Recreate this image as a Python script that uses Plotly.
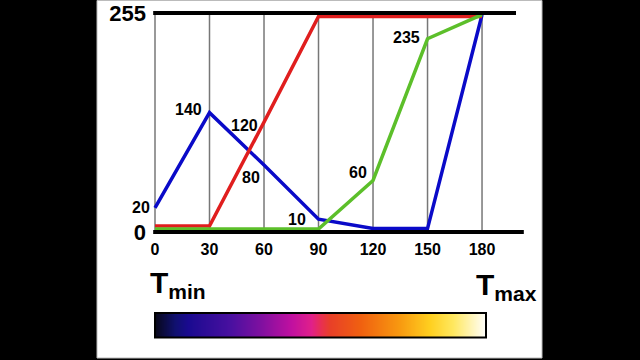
import plotly.graph_objects as go

W, H = 640, 360

# ---------------- data ----------------
temps = [0, 30, 60, 90, 120, 150, 180]
tick_labels = ["0", "30", "60", "90", "120", "150", "180"]
red_vals = [7, 7, 128, 251, 251, 251, 251]
green_vals = [3.5, 3.5, 3.5, 3.5, 60, 225, 253]
blue_vals = [28, 139, 78, 15, 4, 4, 253]

# point labels: (series, index, text, x-shift px, y-shift px)
label_series = ["blue", "blue", "red", "blue", "blue", "green", "green"]
label_index = [0, 1, 2, 2, 3, 4, 5]
label_text = ["20", "140", "120", "80", "10", "60", "235"]
label_dx = [-3, -6, -4, -2, -11, -4, -6]
label_dy = [0, 3, -3, -12, 0, 8, 1]

y_ticks = [0, 255]
y_tick_text = ["0", "255"]

bar_stops = [0.0, 0.06, 0.10, 0.23, 0.32, 0.41, 0.47, 0.50, 0.53, 0.62, 0.74, 0.83, 0.90, 1.0]
bar_colors = ["#08081a", "#101070", "#1a0a90", "#4a10a0", "#8010a0", "#c010a0",
              "#e0208a", "#e83050", "#e84028", "#f06010", "#f89a10", "#ffd020",
              "#ffe860", "#ffffff"]

FONT = "Liberation Sans, Arial, sans-serif"
COL = {"red": "#e01e1e", "green": "#5cbf2a", "blue": "#0a0ac8"}
series = {"red": red_vals, "green": green_vals, "blue": blue_vals}


def px_x(p):
    return p / W


def px_y(p):
    return 1 - p / H


fig = go.Figure()

for name in ["blue", "red", "green"]:
    fig.add_trace(go.Scatter(x=temps, y=series[name], mode="lines",
                             line=dict(color=COL[name], width=3.5),
                             hoverinfo="skip", showlegend=False))

# colour bar as a smoothed heatmap
fig.add_trace(go.Heatmap(z=[bar_stops], x=bar_stops, y=[0],
                         colorscale=[[s, c] for s, c in zip(bar_stops, bar_colors)],
                         zmin=0, zmax=1, zsmooth="best", showscale=False,
                         hoverinfo="skip", xaxis="x2", yaxis="y2"))

shapes = []
# white slide background
shapes.append(dict(type="rect", xref="paper", yref="paper",
                   x0=px_x(97), x1=px_x(542), y0=px_y(358), y1=px_y(0.5),
                   fillcolor="white", line=dict(color="#bbbbbb", width=1), layer="below"))
# vertical grid lines
for t in temps:
    shapes.append(dict(type="line", xref="x", yref="y", x0=t, x1=t, y0=0, y1=255,
                       line=dict(color="#777777", width=1.5), layer="below"))
# black axis lines
shapes.append(dict(type="line", xref="x", yref="y", x0=-1, x1=203, y0=0, y1=0,
                   line=dict(color="black", width=4), layer="above"))
shapes.append(dict(type="line", xref="x", yref="y", x0=-1, x1=198.7, y0=255, y1=255,
                   line=dict(color="black", width=4), layer="above"))
# colour bar border
shapes.append(dict(type="rect", xref="paper", yref="paper",
                   x0=px_x(155), x1=px_x(486), y0=px_y(337.5), y1=px_y(313),
                   line=dict(color="black", width=2), layer="above"))

annotations = []
for s, i, txt, dx, dy in zip(label_series, label_index, label_text, label_dx, label_dy):
    annotations.append(dict(x=temps[i], y=series[s][i], xref="x", yref="y",
                            text=txt, showarrow=False, xanchor="right", yanchor="middle",
                            xshift=dx, yshift=dy,
                            font=dict(family=FONT, size=16, color="black", weight="bold")))

annotations.append(dict(x=px_x(148), y=px_y(264), xref="paper", yref="paper",
                        text="T<sub>min</sub>", showarrow=False, xanchor="left", yanchor="top",
                        font=dict(family=FONT, size=30, color="black", weight="bold")))
annotations.append(dict(x=px_x(474), y=px_y(266), xref="paper", yref="paper",
                        text="T<sub>max</sub>", showarrow=False, xanchor="left", yanchor="top",
                        font=dict(family=FONT, size=30, color="black", weight="bold")))

fig.update_layout(
    width=W, height=H, autosize=False,
    margin=dict(l=0, r=0, t=0, b=0, pad=0, autoexpand=False),
    paper_bgcolor="black", plot_bgcolor="rgba(0,0,0,0)",
    shapes=shapes, annotations=annotations,
    xaxis=dict(domain=[px_x(153), px_x(524)], range=[-1.1, 203.1], automargin=False,
               tickvals=temps, ticktext=tick_labels, showgrid=False, zeroline=False,
               showline=False, ticks="", ticklabelstandoff=2, ticklabeloverflow="allow",
               tickfont=dict(family=FONT, size=16, color="black", weight="bold")),
    yaxis=dict(domain=[px_y(236), px_y(10)], range=[-4.66, 258.5], automargin=False,
               tickvals=y_ticks, ticktext=y_tick_text, showgrid=False, zeroline=False,
               showline=False, ticks="", ticklabelstandoff=6, ticklabeloverflow="allow",
               tickfont=dict(family=FONT, size=22, color="black", weight="bold")),
    xaxis2=dict(domain=[px_x(155), px_x(486)], range=[0, 1], visible=False,
                anchor="y2", automargin=False),
    yaxis2=dict(domain=[px_y(337), px_y(313)], range=[-0.5, 0.5], visible=False,
                anchor="x2", automargin=False),
)

fig.write_html("out.html",
               config={"displayModeBar": False},
               post_script="document.body.style.margin='0';"
                           "document.body.style.background='black';")
